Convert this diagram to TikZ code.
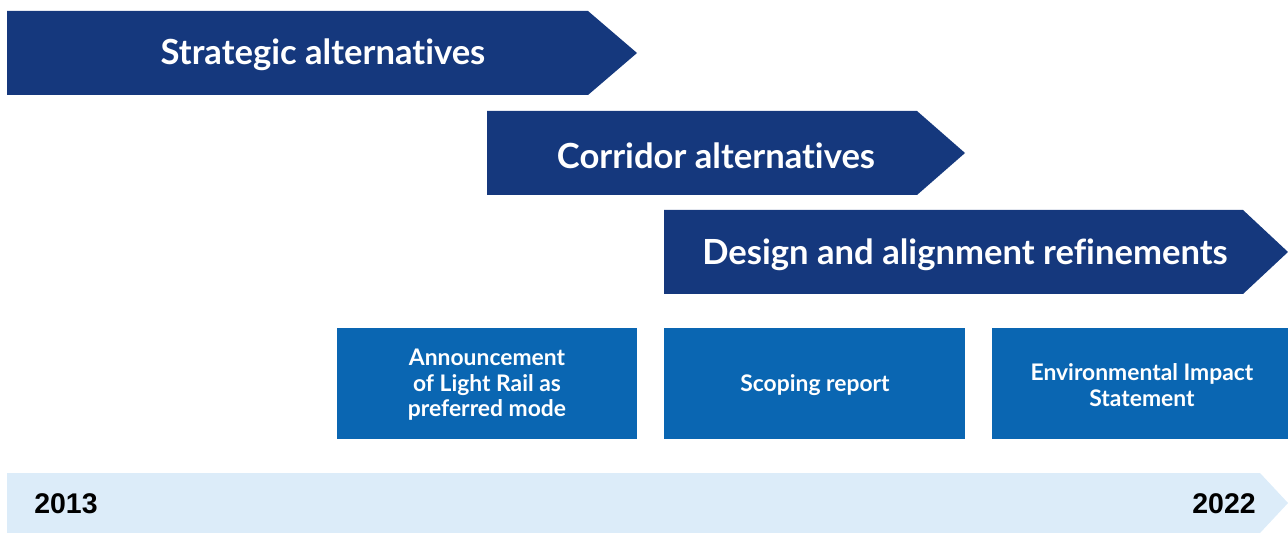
\documentclass[tikz,border=0pt]{standalone}
\usepackage{fontspec}
\setmainfont{Lato}[Ligatures=CommonOff]
\newfontfamily\yearfont{Liberation Sans}
\definecolor{navy}{RGB}{21,56,125}
\definecolor{midblue}{RGB}{10,102,178}
\definecolor{paleblue}{RGB}{220,236,249}

\begin{document}
\begin{tikzpicture}[x=0.02cm,y=-0.02cm]
    \useasboundingbox (0,0) rectangle (1288,533);
    \tikzset{phase/.style={text=white,font=\bfseries\fontsize{19.7}{24}\selectfont},
             stage/.style={text=white,align=center,font=\bfseries\fontsize{13}{14.5}\selectfont},
             year/.style={font=\yearfont\bfseries\fontsize{16.2}{20}\selectfont}}
    % phase arrows
    \fill[navy] (7,11) -- (588,11) -- (637,53) -- (588,95) -- (7,95) -- cycle;
    \fill[navy] (487,111) -- (917,111) -- (965,153) -- (917,195) -- (487,195) -- cycle;
    \fill[navy] (664,210) -- (1243,210) -- (1288,252) -- (1243,294) -- (664,294) -- cycle;
    \node[phase] (strategic) at (323,55) {Strategic alternatives};
    \node[phase] (corridor) at (716,156) {Corridor alternatives};
    \node[phase] (design) at (965,255) {Design and alignment refinements};
    % milestones
    \fill[midblue] (337,328) rectangle (637,439);
    \fill[midblue] (664,328) rectangle (965,439);
    \fill[midblue] (992,328) rectangle (1288,439);
    \node[stage] (announce) at (487,385) {Announcement\\of Light Rail as\\preferred mode};
    \node[stage] (scoping) at (815,385) {Scoping report};
    \node[stage] (eis) at (1142,385) {Environmental Impact\\Statement};
    % timeline
    \fill[paleblue] (7,473) -- (1260,473) -- (1288,503) -- (1260,533) -- (7,533) -- cycle;
    \node[year] (start) at (66,504) {2013};
    \node[year] (finish) at (1224,504) {2022};
\end{tikzpicture}
\end{document}
